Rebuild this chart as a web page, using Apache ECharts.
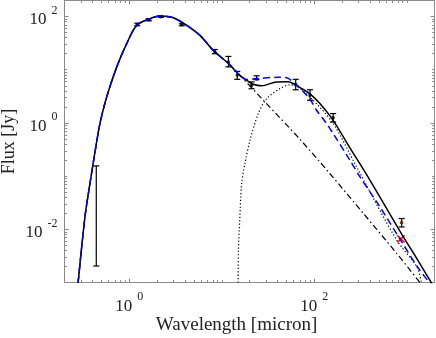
<!DOCTYPE html>
<html>
<head>
<meta charset="utf-8">
<script src="https://cdn.jsdelivr.net/npm/echarts@6/dist/echarts.min.js"></script>
<style>
html, body { margin: 0; padding: 0; background: #fff; }
#main { width: 436px; height: 338px; }
</style>
</head>
<body>
<div id="main"></div>
<script>
// wavelength in micron, flux in Jy

// stellar part, shared by every curve
var photoLam  = [0.28, 0.332, 0.376, 0.426, 0.482, 0.57, 0.731, 0.938, 1.2, 1.67, 2.15, 2.99, 4.18, 5.81, 8.09, 11.75, 15.7];
var photoFlux = [0.001, 0.0172, 0.073, 0.283, 0.975, 3.07, 11.2, 30.9, 68, 91, 102, 95, 68, 44.2, 23.1, 13.2, 7.85];

// photosphere only (dash-dot), long wavelength part
var starLam  = [29.3, 70, 148, 339, 778, 1390];
var starFlux = [2.48, 0.494, 0.111, 0.02, 0.00355, 0.001];

// total model (solid black)
var totalLam  = [18.6, 21.9, 27.0, 39.2, 52.0, 70.0, 89.9, 115, 160, 243, 368, 513, 881, 1300, 2000];
var totalFlux = [6.32, 5.32, 4.99, 5.88, 5.93, 4.62, 3.53, 2.31, 1.12, 0.34, 0.107, 0.0404, 0.00816, 0.00273, 0.00079];

// second model (blue dashed)
var blueLam  = [18.6, 23.8, 40.5, 50.3, 66.6, 89.9, 106, 136, 160, 243, 312, 513, 881, 1300, 2000];
var blueFlux = [6.52, 6.81, 7.2, 7.05, 4.88, 2.78, 1.73, 0.975, 0.632, 0.2, 0.097, 0.0265, 0.00585, 0.00199, 0.00075];

// dust component (dotted)
var dustLam  = [15.05, 15.15, 15.7, 16.4, 17.8, 20.2, 24.8, 30.6, 42.6, 54.6, 64.5, 89.9, 160, 287, 778, 1280, 1450];
var dustFlux = [0.001, 0.0041, 0.0172, 0.073, 0.173, 0.473, 1.50, 2.87, 4.42, 5.21, 4.88, 3.07, 0.975, 0.149, 0.0063, 0.002, 0.00097];

// photometry with error bars (flux null = bar only)
var ptLam  = [0.44, 1.22, 1.63, 2.2, 3.7, 8.4, 11.8, 14.7, 21, 23.8, 63, 90, 160, 880];
var ptFlux = [null, 71, 87, 99, 70, 22, 14, 8.0, 5.1, 6.7, 5.3, 3.35, 1.25, 0.0133];
var ptLo   = [0.00205, 67, 83, 96, 67, 20, 11.3, 6.6, 4.4, 6.5, 4.2, 2.67, 1.04, 0.0111];
var ptHi   = [0.156, 75, 91, 102, 73, 24, 17.8, 9.3, 5.9, 7.7, 6.6, 4.2, 1.5, 0.016];

// red cross
var redLam  = [865];
var redFlux = [0.0066];

// axes
var xMin = 0.2, xMax = 2000, yMin = 0.001, yMax = 200;
var xMajor = [1, 100];
var yMajor = [0.01, 1, 100];

var L = Math.log10;

function pairs(a, b) {
    var out = [];
    for (var i = 0; i < a.length; i++) out.push([a[i], b[i]]);
    return out;
}

function minorTicks(lo, hi, majors) {
    var out = [];
    for (var e = -4; e <= 4; e++) {
        for (var k = 1; k < 10; k++) {
            var v = k * Math.pow(10, e);
            if (v < lo * 0.999 || v > hi * 1.001) continue;
            var isMajor = majors.some(function (m) { return Math.abs(m - v) < m * 1e-6; });
            if (!isMajor) out.push(L(v));
        }
    }
    return out;
}

var serif = '"Liberation Serif", "DejaVu Serif", serif';
var axisColor = '#8a8a8a';

function labelFmt(v) {
    var e = Math.round(v);
    return '{b|10}{s|' + e + '}';
}

var labelRich = {
    b: { fontFamily: serif, fontSize: 17, color: '#222', lineHeight: 24, verticalAlign: 'bottom' },
    s: { fontFamily: serif, fontSize: 12, color: '#222', lineHeight: 12, verticalAlign: 'top', padding: [0, 0, 0, 5] }
};

function decoAxis(isX, pos, vals, len, line, label) {
    return {
        type: 'value',
        position: pos,
        min: isX ? L(xMin) : L(yMin),
        max: isX ? L(xMax) : L(yMax),
        axisLine: { show: line, onZero: false, lineStyle: { color: axisColor, width: 1 } },
        axisTick: { show: true, inside: true, length: len, customValues: vals, lineStyle: { color: axisColor, width: 1 } },
        axisLabel: label ? {
            show: true, customValues: vals, formatter: labelFmt, rich: labelRich,
            margin: isX ? 8 : 7
        } : { show: false },
        splitLine: { show: false },
        silent: true
    };
}

var xMajorV = xMajor.map(L), yMajorV = yMajor.map(L);
var xMinorV = minorTicks(xMin, xMax, xMajor), yMinorV = minorTicks(yMin, yMax, yMajor);

var xBottom = decoAxis(true, 'bottom', xMajorV, 4, true, true);
xBottom.name = 'Wavelength [micron]';
xBottom.nameLocation = 'middle';
xBottom.nameGap = 33;
xBottom.nameMoveOverlap = false;
xBottom.nameTextStyle = { fontFamily: serif, fontSize: 19, color: '#222', padding: [0, 26, 0, 0] };

var yLeft = decoAxis(false, 'left', yMajorV, 4, true, true);
yLeft.name = 'Flux [Jy]';
yLeft.nameLocation = 'middle';
yLeft.nameGap = 46;
yLeft.nameMoveOverlap = false;
yLeft.nameTextStyle = { fontFamily: serif, fontSize: 18, color: '#222' };

var dataAxisX = { type: 'log', min: xMin, max: xMax, show: false, axisLine: { show: false }, axisTick: { show: false }, axisLabel: { show: false }, splitLine: { show: false } };
var dataAxisY = { type: 'log', min: yMin, max: yMax, show: false, axisLine: { show: false }, axisTick: { show: false }, axisLabel: { show: false }, splitLine: { show: false } };

function renderBar(params, api) {
    var x = api.value(0);
    var p1 = api.coord([x, api.value(1)]);
    var p2 = api.coord([x, api.value(2)]);
    var w = 3;
    var st = { stroke: '#000', lineWidth: 1.2 };
    return {
        type: 'group',
        children: [
            { type: 'line', shape: { x1: p1[0], y1: p1[1], x2: p2[0], y2: p2[1] }, style: st },
            { type: 'line', shape: { x1: p1[0] - w, y1: p1[1], x2: p1[0] + w, y2: p1[1] }, style: st },
            { type: 'line', shape: { x1: p2[0] - w, y1: p2[1], x2: p2[0] + w, y2: p2[1] }, style: st }
        ]
    };
}

function renderCross(params, api) {
    var p = api.coord([api.value(0), api.value(1)]);
    var r = 3.6;
    var st = { stroke: '#ff0000', lineWidth: 1.5 };
    return {
        type: 'group',
        children: [
            { type: 'line', shape: { x1: p[0] - r, y1: p[1] - r, x2: p[0] + r, y2: p[1] + r }, style: st },
            { type: 'line', shape: { x1: p[0] - r, y1: p[1] + r, x2: p[0] + r, y2: p[1] - r }, style: st }
        ]
    };
}

var barData = [], dotData = [];
for (var i = 0; i < ptLam.length; i++) {
    barData.push([ptLam[i], ptLo[i], ptHi[i]]);
    if (ptFlux[i] !== null) dotData.push([ptLam[i], ptFlux[i]]);
}

var lineBase = { type: 'line', xAxisIndex: 0, yAxisIndex: 0, showSymbol: false, symbol: 'none', smooth: 0.3, clip: true, silent: true };

var chart = echarts.init(document.getElementById('main'), null, { renderer: 'canvas' });

var option = {
    animation: false,
    backgroundColor: '#fff',
    grid: { left: 64.6, right: 1.4, top: 0.5, bottom: 55.4, containLabel: false, outerBoundsMode: 'none' },
    xAxis: [
        dataAxisX,
        xBottom,
        decoAxis(true, 'bottom', xMinorV, 2.5, false, false),
        decoAxis(true, 'top', xMajorV, 4, true, false),
        decoAxis(true, 'top', xMinorV, 2.5, false, false)
    ],
    yAxis: [
        dataAxisY,
        yLeft,
        decoAxis(false, 'left', yMinorV, 2.5, false, false),
        decoAxis(false, 'right', yMajorV, 4, true, false),
        decoAxis(false, 'right', yMinorV, 2.5, false, false)
    ],
    series: [
        Object.assign({}, lineBase, {
            data: pairs(photoLam, photoFlux).concat(pairs(starLam, starFlux)),
            lineStyle: { color: '#000', width: 1.2, type: [6, 3, 1.5, 3] }
        }),
        Object.assign({}, lineBase, {
            data: pairs(dustLam, dustFlux),
            lineStyle: { color: '#000', width: 1.2, type: [1.2, 2.2] }
        }),
        Object.assign({}, lineBase, {
            data: pairs(photoLam, photoFlux).concat(pairs(totalLam, totalFlux)),
            lineStyle: { color: '#000', width: 1.5, type: 'solid' }
        }),
        Object.assign({}, lineBase, {
            data: pairs(photoLam, photoFlux).concat(pairs(blueLam, blueFlux)),
            lineStyle: { color: '#0000ff', width: 1.5, type: [7, 4] }
        }),
        {
            type: 'custom', xAxisIndex: 0, yAxisIndex: 0, silent: true,
            renderItem: renderBar,
            encode: { x: 0, y: [1, 2] },
            data: barData
        },
        {
            type: 'scatter', xAxisIndex: 0, yAxisIndex: 0, silent: true,
            symbol: 'circle', symbolSize: 3.5,
            itemStyle: { color: '#000' },
            data: dotData
        },
        {
            type: 'custom', xAxisIndex: 0, yAxisIndex: 0, silent: true,
            renderItem: renderCross,
            encode: { x: 0, y: 1 },
            data: pairs(redLam, redFlux)
        },
        {
            type: 'scatter', xAxisIndex: 0, yAxisIndex: 0, silent: true,
            symbol: 'circle', symbolSize: 2.5,
            itemStyle: { color: '#ff0000' },
            data: [[ptLam[ptLam.length - 1], ptFlux[ptFlux.length - 1]]]
        }
    ]
};

chart.setOption(option);
</script>
</body>
</html>
